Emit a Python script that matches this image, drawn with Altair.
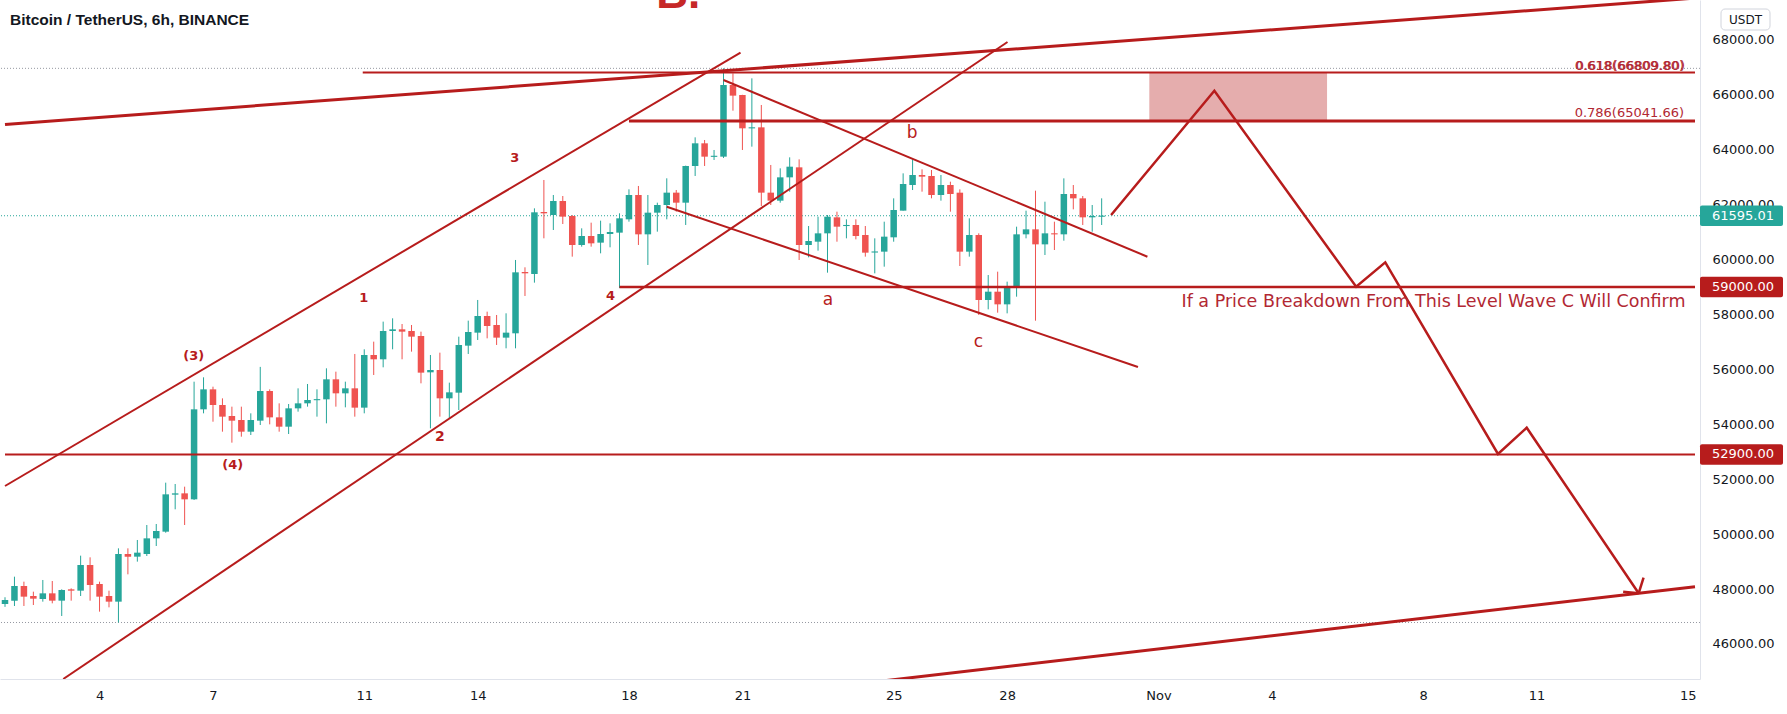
import altair as alt
import pandas as pd

GREEN = "#26a69a"
RED = "#ef5350"
DRAW = "#b71c1c"
TEXT_RED = "#b22833"
FONT = "DejaVu Sans"

# ---------------- candles (6h, BTC/USDT) ----------------
first_candle_day = 1.5   # Oct 1 12:00 UTC, expressed in days of October
candle_step = 0.25       # 6 hours

opens = [47454, 47575, 48109, 47745, 47636, 47842, 47575, 47988, 47939, 48874,
         48182, 47745, 47539, 49275, 49178, 49275, 49845, 50088, 51436, 51484,
         51266, 54544, 55272, 54702, 54301, 54155, 53730, 54131, 55211, 54252,
         53912, 54580, 54763, 54884, 54908, 55637, 55127, 55309, 54605, 56523,
         56366, 57398, 57458, 57398, 57215, 55892, 55977, 54945, 55151, 56863,
         57337, 57944, 57616, 57155, 57313, 59546, 59474, 61732, 61622, 62132,
         61586, 60530, 60857, 60615, 60930, 60979, 61465, 62351, 60918, 61707,
         61987, 62436, 62071, 63407, 64233, 63747, 63747, 66357, 65993, 64779,
         64815, 62436, 62144, 62994, 63358, 60529, 60650, 60954, 61537, 61221,
         61258, 60893, 60262, 60287, 60809, 61780, 62714, 63079, 63043, 62350,
         62714, 62435, 60287, 60893, 58526, 58829, 58368, 59012, 60918, 61100,
         60553, 60954, 60918, 62387, 62229, 61537, 61561]
highs = [47700, 48449, 48267, 47903, 48328, 48291, 47988, 48024, 49214, 49154,
         48267, 47939, 49481, 49481, 49785, 50331, 50368, 51873, 51824, 51727,
         55551, 55710, 55369, 54944, 54641, 54641, 54398, 56090, 55272, 54762,
         54738, 55309, 55467, 55273, 56038, 55916, 55552, 56560, 56730, 57009,
         57738, 57859, 57652, 57616, 57373, 56523, 56608, 55516, 57191, 57774,
         58527, 58102, 57980, 58041, 59984, 59717, 61865, 62897, 62351, 62314,
         61620, 61137, 61343, 61416, 61319, 61683, 62557, 62679, 62351, 62071,
         62958, 62533, 63420, 64451, 64354, 63990, 66964, 66782, 66000, 66600,
         65629, 63444, 63322, 63722, 63649, 61221, 61561, 61622, 61743, 61464,
         61464, 61221, 60772, 61379, 62229, 63139, 63649, 63285, 63261, 63079,
         62836, 62557, 61501, 60954, 59436, 59558, 59194, 61197, 61780, 62508,
         62107, 61379, 62957, 62714, 62314, 61986, 62229]
lows = [47350, 47381, 47381, 47417, 47539, 47478, 47017, 47575, 47745, 47575,
        47175, 47332, 46780, 48534, 48996, 49202, 49566, 50050, 50902, 50331,
        51242, 54398, 54094, 53730, 53330, 53548, 53609, 53973, 53997, 53730,
        53645, 54459, 54642, 54277, 54034, 54641, 54617, 54277, 54399, 55795,
        56074, 56730, 56366, 56645, 55491, 53852, 54277, 54216, 54520, 56560,
        57070, 57130, 56888, 56766, 56766, 58672, 59158, 60773, 61076, 61294,
        60105, 60469, 60469, 60226, 60445, 58960, 61379, 60530, 59801, 61015,
        61465, 61744, 61258, 63043, 63407, 63626, 63700, 65422, 63990, 64111,
        61950, 61986, 62071, 62472, 59983, 60080, 60323, 59522, 60650, 60772,
        60735, 60105, 59497, 59740, 60650, 61780, 62532, 62472, 62229, 62144,
        61743, 59764, 60105, 57980, 58186, 58065, 58040, 58647, 60772, 57773,
        60165, 60347, 60687, 61828, 61258, 61015, 61258]
closes = [47600, 48109, 47721, 47648, 47842, 47575, 47964, 47939, 48874, 48146,
          47721, 47539, 49275, 49178, 49324, 49845, 50113, 51448, 51484, 51266,
          54544, 55272, 54702, 54277, 54131, 53730, 54155, 55211, 54252, 53912,
          54580, 54762, 54884, 54908, 55637, 55127, 55309, 54605, 56523, 56366,
          57398, 57458, 57373, 57191, 55880, 55977, 54945, 55163, 56887, 57361,
          57944, 57580, 57155, 57337, 59534, 59498, 61720, 61683, 62132, 61562,
          60530, 60857, 60590, 60930, 61003, 61501, 62351, 60918, 61707, 61987,
          62436, 62071, 63407, 64233, 63747, 63772, 66357, 65969, 64779, 64815,
          62436, 62144, 62994, 63382, 60529, 60675, 60954, 61561, 61197, 61258,
          60857, 60250, 60287, 60833, 61804, 62751, 63079, 63018, 62350, 62714,
          62387, 60287, 60893, 58526, 58829, 58368, 59036, 60918, 61100, 60553,
          60954, 60918, 62387, 62229, 61537, 61585, 61595.01]

# ---------------- axes ----------------
x_domain = [1.5, 46.19]
y_domain = [44722, 69453]
tick_days = [4, 7, 11, 14, 18, 21, 25, 28, 32, 35, 39, 42, 46]
tick_labels = ["4", "7", "11", "14", "18", "21", "25", "28", "Nov", "4", "8", "11", "15"]
price_ticks = [46000, 48000, 50000, 52000, 54000, 56000, 58000, 60000,
               62000, 64000, 66000, 68000]

# ---------------- drawings ----------------
line_ids = ["big_top", "big_bottom", "chan_up", "chan_lo", "desc_up", "desc_lo",
            "h59000", "h52900", "fib618", "fib786", "zigzag", "arrow1", "arrow2"]
line_days = [[1.5, 46.19], [24.63, 46.19], [1.5, 20.95], [3.04, 28.01],
             [20.5, 31.71], [19.0, 31.46], [17.75, 46.19], [1.5, 46.19],
             [10.96, 46.19], [18.0, 46.19],
             [30.75, 33.48, 37.23, 38.0, 40.98, 41.74, 44.70],
             [44.83, 44.70], [44.29, 44.70]]
line_prices = [[64919, 69522], [44638, 48084], [51752, 67534], [44722, 67924],
               [66539, 60103], [61925, 56086], [59000, 59000], [52900, 52900],
               [66809.80, 66809.80], [65041.66, 65041.66],
               [61622, 66150, 59011, 59900, 52917, 53875, 47843],
               [48412, 47843], [47902, 47843]]
line_widths = [3, 3, 2, 2, 2, 2, 2.5, 2, 2, 3, 2.5, 2.5, 2.5]

box_days = [31.76, 36.46]
box_prices = [66809.80, 65041.66]

dotted_prices = [66964, 61595.01, 46780]
dotted_colors = ["#9598a1", GREEN, "#9598a1"]

wave_texts = ["3", "1", "(3)", "(4)", "2", "4", "a", "b", "c"]
wave_days = [14.98, 10.99, 6.49, 7.52, 13.0, 17.51, 23.26, 25.49, 27.24]
wave_prices = [63684, 58588, 56487, 52517, 53548, 58672, 58527, 64620, 57008]
wave_sizes = [13, 13, 13, 13, 14, 13, 17, 17, 17]
wave_bold = [True, True, True, True, True, True, False, False, False]

note_texts = ["If a Price Breakdown From This Level Wave C Will Confirm",
              "0.618(66809.80)", "0.786(65041.66)"]
note_days = [45.94, 45.90, 45.90]
note_prices = [58464, 67049, 65348]
note_sizes = [17.5, 13, 13]

tag_prices = [61595.01, 59000.00, 52900.00]
tag_labels = ["61595.01", "59000.00", "52900.00"]
tag_colors = [GREEN, "#b71c1c", "#b71c1c"]

big_label = "B."
big_label_day = 18.72
big_label_price = 69162

# ---------------- data frames ----------------
n = len(opens)
cd = pd.DataFrame({
    "d": [first_candle_day + i * candle_step for i in range(n)],
    "o": opens, "h": highs, "l": lows, "c": closes,
})
cd["dir"] = ["up" if c >= o else "down" for o, c in zip(opens, closes)]
cd["top"] = cd[["o", "c"]].max(axis=1)
cd["bot"] = cd[["o", "c"]].min(axis=1)
mid = (cd["top"] + cd["bot"]) / 2
small = (cd["top"] - cd["bot"]) < 40
cd.loc[small, "top"] = mid[small] + 20
cd.loc[small, "bot"] = mid[small] - 20

rows = []
for lid, ds, ps, w in zip(line_ids, line_days, line_prices, line_widths):
    for k, (d, p) in enumerate(zip(ds, ps)):
        rows.append({"id": lid, "seq": k, "d": d, "p": p, "w": w})
lines_df = pd.DataFrame(rows)

box_df = pd.DataFrame({"d": [box_days[0]], "d2": [box_days[1]],
                       "p": [box_prices[0]], "p2": [box_prices[1]]})
dot_df = pd.DataFrame({"p": dotted_prices, "col": dotted_colors})
wave_df = pd.DataFrame({"t": wave_texts, "d": wave_days, "p": wave_prices,
                        "s": wave_sizes, "b": wave_bold})
note_df = pd.DataFrame({"t": note_texts, "d": note_days, "p": note_prices, "s": note_sizes})
tag_df = pd.DataFrame({"p": tag_prices, "t": tag_labels, "col": tag_colors})
big_df = pd.DataFrame({"t": [big_label], "d": [big_label_day], "p": [big_label_price]})
one_df = pd.DataFrame({"t": ["Bitcoin / TetherUS, 6h, BINANCE"], "u": ["USDT"]})

label_expr = "".join(f"datum.value == {d} ? '{l}' : " for d, l in zip(tick_days, tick_labels)) + "''"

x_axis = alt.Axis(values=tick_days, labelExpr=label_expr, title=None, grid=False,
                  ticks=False, labelFont=FONT, labelFontSize=13, labelColor="#131722",
                  labelPadding=10, domainColor="#e0e3eb", labelOverlap=False,
                  labelFlush=False)
y_axis = alt.Axis(values=price_ticks, format=".2f", orient="right", title=None,
                  grid=False, ticks=False, labelFont=FONT, labelFontSize=13,
                  labelColor="#131722", labelPadding=12, domainColor="#e0e3eb",
                  labelOverlap=False, labelFlush=False)
xs = alt.Scale(domain=x_domain, nice=False, zero=False)
ys = alt.Scale(domain=y_domain, nice=False, zero=False)


def X(f="d"):
    return alt.X(f"{f}:Q", scale=xs, axis=x_axis)


def Y(f="p"):
    return alt.Y(f"{f}:Q", scale=ys, axis=y_axis)


dir_color = alt.Color("dir:N", scale=alt.Scale(domain=["up", "down"], range=[GREEN, RED]),
                      legend=None)

wicks = alt.Chart(cd).mark_rule(strokeWidth=1, clip=True).encode(
    x=X(), y=Y("l"), y2="h:Q", color=dir_color)
bodies = alt.Chart(cd).mark_bar(size=6.5, clip=True).encode(
    x=X(), y=Y("bot"), y2="top:Q", color=dir_color)

dots = alt.Chart(dot_df).mark_rule(strokeWidth=1, strokeDash=[1, 2], clip=True).encode(
    y=Y(), color=alt.Color("col:N", scale=None))

box = alt.Chart(box_df).mark_rect(color=DRAW, opacity=0.36, clip=True).encode(
    x=X(), x2="d2:Q", y=Y(), y2="p2:Q")

lines = alt.Chart(lines_df).mark_line(color=DRAW, clip=True).encode(
    x=X(), y=Y(), detail="id:N", order="seq:Q",
    strokeWidth=alt.StrokeWidth("w:Q", scale=None))

wave_bold_txt = alt.Chart(wave_df[wave_df.b]).mark_text(
    font=FONT, fontWeight="bold", color=DRAW, baseline="middle", align="center").encode(
    x=X(), y=Y(), text="t:N", size=alt.Size("s:Q", scale=None))
wave_txt = alt.Chart(wave_df[~wave_df.b]).mark_text(
    font=FONT, color=DRAW, baseline="middle", align="center").encode(
    x=X(), y=Y(), text="t:N", size=alt.Size("s:Q", scale=None))
notes = alt.Chart(note_df).mark_text(
    font=FONT, color=TEXT_RED, baseline="middle", align="right").encode(
    x=X(), y=Y(), text="t:N", size=alt.Size("s:Q", scale=None))
note618 = alt.Chart(note_df.iloc[[1]]).mark_text(
    font=FONT, color=TEXT_RED, baseline="middle", align="right", dx=1).encode(
    x=X(), y=Y(), text="t:N", size=alt.Size("s:Q", scale=None))

big = alt.Chart(big_df).mark_text(
    font="Liberation Sans", fontWeight="bold", fontSize=44, color="#c62828",
    align="left", baseline="alphabetic").encode(x=X(), y=Y(), text="t:N")

tag_rect = alt.Chart(tag_df).transform_calculate(
    p_hi="datum.p + 370", p_lo="datum.p - 370").mark_rect(cornerRadius=2).encode(
    x=alt.value(1700), x2=alt.value(1783), y=Y("p_hi"), y2="p_lo:Q",
    color=alt.Color("col:N", scale=None))
tag_txt = alt.Chart(tag_df).mark_text(
    font=FONT, fontSize=13, color="white", align="left", baseline="middle").encode(
    x=alt.value(1712), y=Y(), text="t:N")

title = alt.Chart(one_df).mark_text(
    font="Liberation Sans", fontWeight="bold", fontSize=15.5, color="#131722",
    align="left", baseline="middle").encode(x=alt.value(10), y=alt.value(20), text="t:N")
usdt_box = alt.Chart(one_df).mark_rect(
    fill="white", stroke="#d1d4dc", strokeWidth=1, cornerRadius=4).encode(
    x=alt.value(1721), x2=alt.value(1770), y=alt.value(9), y2=alt.value(30))
usdt_txt = alt.Chart(one_df).mark_text(
    font=FONT, fontSize=12, color="#131722", align="center", baseline="middle").encode(
    x=alt.value(1745.5), y=alt.value(19.5), text="u:N")

chart = alt.layer(
    dots, wicks, bodies, box, lines, wave_bold_txt, wave_txt, notes, note618, big,
    tag_rect, tag_txt, title, usdt_box, usdt_txt
).properties(
    width=1700, height=679,
    autosize=alt.AutoSizeParams(type="none"),
    padding={"left": 0, "top": 0, "right": 87, "bottom": 35},
    background="white",
).configure_view(strokeWidth=0)

chart.save("out.html", embed_options={"renderer": "svg", "actions": False})
